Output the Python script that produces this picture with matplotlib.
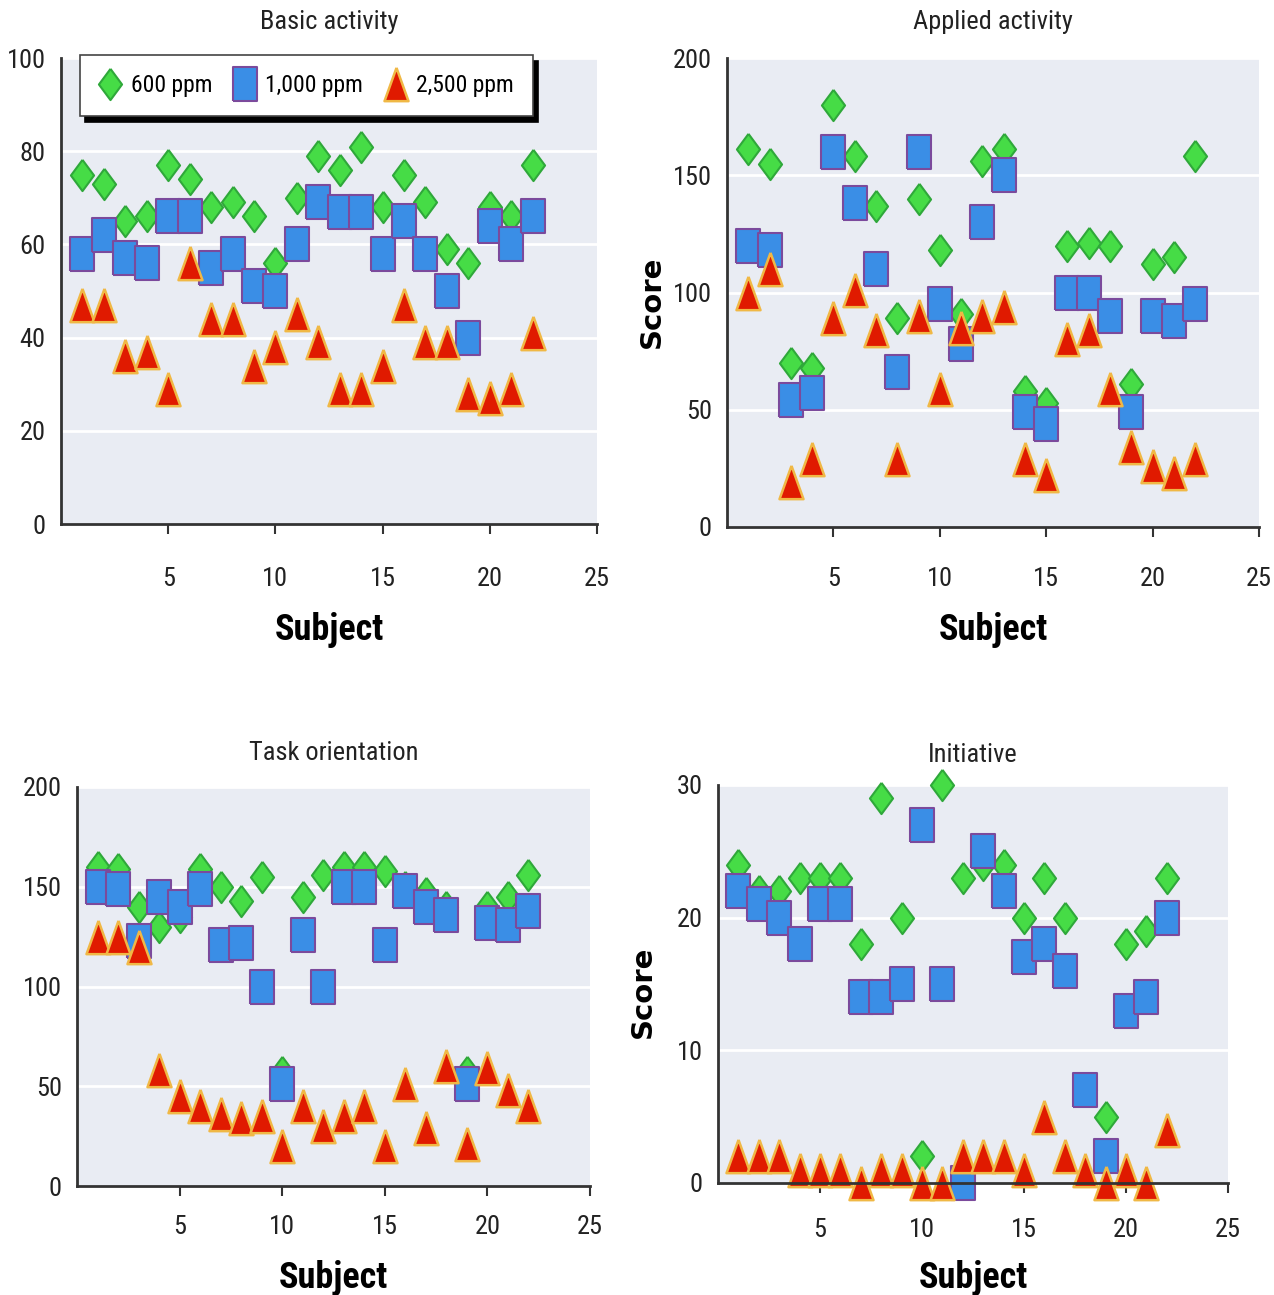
import matplotlib
matplotlib.use("Agg")
import matplotlib.pyplot as plt

# subjects 1..22
subjects = list(range(1, 23))

# Basic activity
basic_600 = [75, 73, 65, 66, 77, 74, 68, 69, 66, 56, 70, 79, 76, 81, 68, 75, 69, 59, 56, 68, 66, 77]
basic_1000 = [58, 62, 57, 56, 66, 66, 55, 58, 51, 50, 60, 69, 67, 67, 58, 65, 58, 50, 40, 64, 60, 66]
basic_2500 = [47, 47, 36, 37, 29, 56, 44, 44, 34, 38, 45, 39, 29, 29, 34, 47, 39, 39, 28, 27, 29, 41]

# Applied activity
applied_600 = [161, 155, 70, 68, 180, 158, 137, 89, 140, 118, 91, 156, 161, 58, 53, 120, 121, 120, 61, 112, 115, 158]
applied_1000 = [120, 118, 54, 57, 160, 138, 110, 66, 160, 95, 78, 130, 150, 49, 44, 100, 100, 90, 49, 90, 88, 95]
applied_2500 = [100, 110, 19, 29, 89, 101, 84, 29, 90, 59, 85, 90, 94, 29, 22, 80, 84, 59, 34, 26, 23, 29]

# Task orientation
task_600 = [160, 159, 140, 130, 135, 159, 150, 143, 155, 57, 145, 156, 160, 160, 158, 150, 147, 140, 57, 140, 145, 156]
task_1000 = [150, 149, 123, 145, 140, 149, 121, 122, 100, 51, 126, 100, 150, 150, 121, 148, 140, 136, 51, 132, 131, 138]
task_2500 = [125, 125, 120, 58, 45, 40, 36, 34, 35, 20, 40, 30, 35, 40, 20, 51, 29, 60, 21, 59, 48, 40]

# Initiative
init_600 = [24, 22, 22, 23, 23, 23, 18, 29, 20, 2, 30, 23, 24, 24, 20, 23, 20, 7, 5, 18, 19, 23]
init_1000 = [22, 21, 20, 18, 21, 21, 14, 14, 15, 27, 15, 0, 25, 22, 17, 18, 16, 7, 2, 13, 14, 20]
init_2500 = [2, 2, 2, 1, 1, 1, 0, 1, 1, 0, 0, 2, 2, 2, 1, 5, 2, 1, 0, 1, 0, 4]

series_labels = ["600 ppm", "1,000 ppm", "2,500 ppm"]

narrow = ["Roboto Condensed", "Roboto", "DejaVu Sans"]

#tall markers (the original picture is stretched vertically)
square_m = [(-0.36, -0.5), (0.36, -0.5), (0.36, 0.5), (-0.36, 0.5), (-0.36, -0.5)]
diamond_m = [(0, 0.5), (0.37, 0), (0, -0.5), (-0.37, 0), (0, 0.5)]
tri_m = [(0, 0.5), (0.36, -0.5), (-0.36, -0.5), (0, 0.5)]

styles = [
    dict(marker=diamond_m, markersize=22.5, markerfacecolor="#46dc46", markeredgecolor="#2fa83a", markeredgewidth=1.5),
    dict(marker=square_m, markersize=24, markerfacecolor="#3a8ee6", markeredgecolor="#7b4a9c", markeredgewidth=1.5),
    dict(marker=tri_m, markersize=24, markerfacecolor="#e01a00", markeredgecolor="#f0b845", markeredgewidth=1.8),
]

W, H = 1274, 1295
def rect(l, r, b, t):
    return [l / W, 1 - b / H, (r - l) / W, (b - t) / H]

fig = plt.figure(figsize=(W / 100, H / 100), dpi=100)
fig.patch.set_facecolor("white")

# title, rect, ymax, ystep, data, has Score label, title offset px, Subject y px, x tick pad pt
panels = [
    ("Basic activity", rect(61, 597, 524, 58), 100, 20, [basic_600, basic_1000, basic_2500], False, 36, 630, 24),
    ("Applied activity", rect(727, 1259, 527, 58), 200, 50, [applied_600, applied_1000, applied_2500], True, 36, 630, 22),
    ("Task orientation", rect(77, 590, 1186, 787), 200, 50, [task_600, task_1000, task_2500], False, 34, 1278, 14),
    ("Initiative", rect(718, 1228, 1183, 785), 30, 10, [init_600, init_1000, init_2500], True, 30, 1278, 18),
]

axes = []
for title, r, ymax, ystep, data, score, title_off, xlab_y, xpad in panels:
    ax = fig.add_axes(r)
    ax.set_facecolor("#e9ecf3")
    for vals, st, lab in zip(data, styles, series_labels):
        ax.plot(subjects, vals, linestyle="none", label=lab, clip_on=False, **st)
    ax.set_xlim(0, 25)
    ax.set_ylim(0, ymax)
    ax.set_xticks([5, 10, 15, 20, 25])
    ax.set_yticks(list(range(0, ymax + 1, ystep)))
    ax.grid(axis="y", color="white", linewidth=2)
    ax.set_axisbelow(True)
    for s in ["top", "right"]:
        ax.spines[s].set_visible(False)
    for s in ["left", "bottom"]:
        ax.spines[s].set_color("#333333")
        ax.spines[s].set_linewidth(2)
    ax.tick_params(axis="x", length=7, width=1.5, color="#333333", pad=xpad)
    ax.tick_params(axis="y", length=0, pad=11)
    for t in ax.get_xticklabels() + ax.get_yticklabels():
        t.set_family(narrow)
        t.set_fontsize(19)
        t.set_color("#222222")
    hpx = r[3] * H
    ax.set_title(title, family=narrow, fontsize=19, color="#222222",
                 y=1 + title_off / hpx, va="center", pad=0)
    bottom_px = (1 - r[1]) * H
    ax.set_xlabel("Subject", family=narrow, fontsize=26, fontweight="bold", va="center")
    ax.xaxis.set_label_coords(0.5, -(xlab_y - bottom_px) / hpx)
    if score:
        ax.set_ylabel("Score", fontsize=21, fontweight="bold", va="center")
        ax.yaxis.set_label_coords(-75 / (r[2] * W), 0.48)
    axes.append(ax)

#legend box with a solid black drop shadow
leg = axes[0].legend(loc="upper left", bbox_to_anchor=(0.035, 1.006), ncol=3,
                     frameon=True, fancybox=False, borderaxespad=0,
                     handlelength=1.0, handletextpad=0.35, columnspacing=0.9,
                     borderpad=0.8,
                     prop={"family": narrow, "size": 17},
                     shadow={"color": "black", "alpha": 1, "ox": 4, "oy": -4})
leg.get_frame().set_edgecolor("#444444")
leg.get_frame().set_linewidth(1.2)
leg.get_frame().set_facecolor("white")
leg.get_frame().set_alpha(1)

fig.savefig("out.png", dpi=100)
